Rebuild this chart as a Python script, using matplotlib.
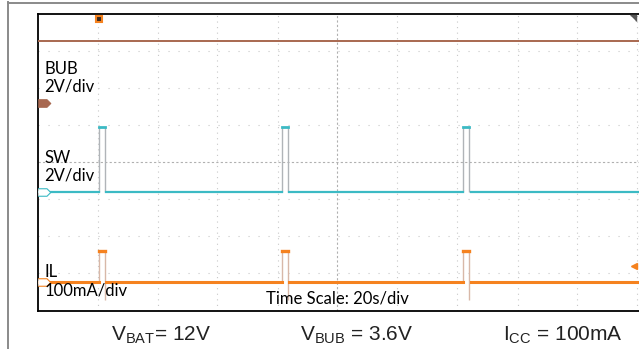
import matplotlib.pyplot as plt
from matplotlib.lines import Line2D

# scope screenshot: BUB / SW / IL channels, 10 x 8 divisions
pulse_t = [1.02, 4.08, 7.10]      # pulse start (div)
pulse_w = 0.10                    # pulse width (div)
bub_level = 3.27
sw_low, sw_high = -0.80, 0.93
il_low, il_high, il_dip = -3.22, -2.41, -3.71
ch_ref = {'C1': 1.60, 'C2': -0.80, 'C3': -3.22}
trig_t = 1.02
il_arrow = -2.79

bub_col = '#a86850'
sw_col = '#3cbac4'
il_col = '#f5821f'
edge_col = '#b0b4b8'

plt.rcParams['mathtext.fontset'] = 'custom'
plt.rcParams['mathtext.rm'] = 'Liberation Sans'
plt.rcParams['mathtext.it'] = 'Liberation Sans'

W, H = 639, 349
fig = plt.figure(figsize=(W / 100, H / 100), dpi=100)

# outer gray frame (left + top)
fig.add_artist(Line2D([7.5 / W, 7.5 / W], [0, 1 - 2 / H], color='#8a8a8a', lw=1.4))
fig.add_artist(Line2D([7.5 / W, 1], [1 - 2.5 / H, 1 - 2.5 / H], color='#8a8a8a', lw=1.4))

left, top, bottom = 37.5, 13.5, 310.5
right = 639
ax = fig.add_axes([left / W, 1 - bottom / H, (right - left) / W, (bottom - top) / H])
ax.set_xlim(0, (right - left) / 60.0)
ax.set_ylim(-4, 4)
for s in ['left', 'top', 'bottom']:
    ax.spines[s].set_linewidth(1.3)
    ax.spines[s].set_color('black')
ax.spines['right'].set_visible(False)
ax.set_xticks([])
ax.set_yticks([])

# graticule
for gx in range(1, 11):
    if gx == 5:
        ax.axvline(gx, color='#b0b0b0', lw=0.8, ls=(0, (2, 2)), zorder=1)
    else:
        ax.axvline(gx, color='#c8c8c8', lw=0.8, ls=(0, (1, 4)), zorder=1)
for gy in range(-3, 4):
    if gy == 0:
        ax.axhline(gy, color='#b0b0b0', lw=0.8, ls=(0, (2, 2)), zorder=1)
    else:
        ax.axhline(gy, color='#c8c8c8', lw=0.8, ls=(0, (1, 8)), zorder=1)

xmax = ax.get_xlim()[1]

# BUB trace
ax.plot([0, xmax], [bub_level, bub_level], color=bub_col, lw=1.4, zorder=3)

# SW and IL traces
starts = [0] + [t + pulse_w for t in pulse_t]
ends = pulse_t + [xmax]
for a, b in zip(starts, ends):
    ax.plot([a + 0.02 if a else a, b], [sw_low, sw_low], color=sw_col, lw=1.6, zorder=3)
    ax.plot([a + 0.02 if a else a, b], [il_low, il_low], color=il_col, lw=2.2, zorder=3)
for t in pulse_t:
    ax.plot([t, t + pulse_w], [sw_high, sw_high], color=sw_col, lw=2.0, zorder=3)
    ax.vlines([t, t + pulse_w], sw_low, sw_high, color=edge_col, lw=1.0, zorder=2)
    ax.plot([t, t + pulse_w], [il_high, il_high], color=il_col, lw=2.4, zorder=3)
    ax.vlines(t, il_low, il_high, color='#d8b8a8', lw=1.0, zorder=2)
    ax.vlines(t + pulse_w, il_dip, il_high, color='#d8b8a8', lw=1.0, zorder=2)

# channel reference markers (small tags at the left edge)
tag = [(-1, 0.6), (0.4, 0.6), (1, 0), (0.4, -0.6), (-1, -0.6)]
ax.plot(0.1, ch_ref['C1'], marker=tag, ms=9, color=bub_col, mew=0.8, clip_on=False, zorder=4)
ax.plot(0.1, ch_ref['C2'], marker=tag, ms=9, mfc='white', mec=sw_col, mew=0.8, clip_on=False, zorder=4)
ax.plot(0.1, ch_ref['C3'], marker=tag, ms=9, mfc='white', mec=il_col, mew=0.8, clip_on=False, zorder=4)
# trigger marker, right-side arrow and corner flag
ax.plot(trig_t, 3.84, marker='s', ms=5, mfc='#3a2a20', mec=il_col, mew=1.5, zorder=4)
ax.plot(9.95, il_arrow, marker='<', ms=5, color=il_col, zorder=4)
ax.plot(9.88, 3.80, marker=[(0, 1), (1, 1), (1, 0)], ms=9, color='#555555',
        linestyle='none', clip_on=False, zorder=6)

lab = dict(fontsize=12, family='Lato', color='black', va='baseline', zorder=5)
ax.text(0.11, 2.38, 'BUB', **lab)
ax.text(0.11, 1.90, '2V/div', **lab)
ax.text(0.11, -0.02, 'SW', **lab)
ax.text(0.11, -0.50, '2V/div', **lab)
ax.text(0.11, -3.09, 'IL', **lab)
ax.text(0.11, -3.60, '100mA/div', **lab)
ax.text(5.0, -3.81, 'Time Scale: 20s/div', ha='center',
        **{k: v for k, v in lab.items() if k != 'zorder'})

bot = dict(fontsize=15, family='Liberation Sans', color='#222222', va='baseline')
fig.text(111 / W, 1 - 341 / H, r'V$_{\mathrm{BAT}}$= 12V', **bot)
fig.text(300 / W, 1 - 341 / H, r'V$_{\mathrm{BUB}}$ = 3.6V', **bot)
fig.text(503 / W, 1 - 341 / H, r'I$_{\mathrm{CC}}$ = 100mA', **bot)

fig.savefig('out.png', dpi=100)
